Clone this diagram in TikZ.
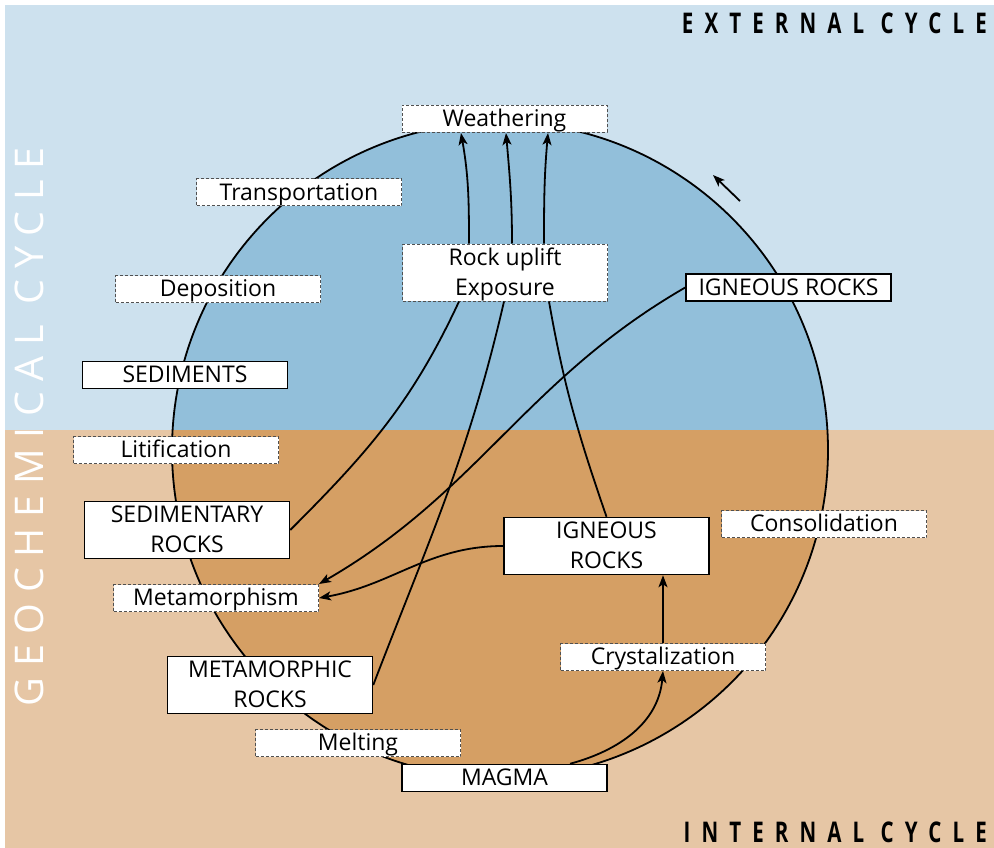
\documentclass[tikz,border=0pt]{standalone}
\usepackage{fontspec}
\setmainfont{Open Sans}
\newfontfamily\titlefont[FakeStretch=0.72,LetterSpace=39]{Open Sans}
\newfontfamily\sidefont[LetterSpace=27]{Open Sans}
\usetikzlibrary{arrows.meta}

\definecolor{skyback}{RGB}{205,225,238}
\definecolor{skydisc}{RGB}{146,191,218}
\definecolor{earthback}{RGB}{230,198,165}
\definecolor{earthdisc}{RGB}{213,159,100}
\definecolor{dashgray}{RGB}{80,80,80}

\tikzset{
  box/.style={draw=black, line width=1.5pt, fill=white, minimum width=205pt,
              minimum height=27pt, inner sep=0pt, align=center,
              text height=20pt, text depth=4.6pt,
              font=\fontsize{23}{30}\selectfont},
  dbox/.style={box, draw=dashgray, line width=1pt, dash pattern=on 3pt off 2pt},
  tallbox/.style={minimum height=57pt, text height=50pt, text depth=4.6pt},
  link/.style={line width=1.8pt, black},
  arr/.style={link, -{Stealth[length=12pt,width=9pt,inset=3pt]}},
  titletext/.style={anchor=east, inner sep=0pt,
                    font=\fontsize{28.5}{28.5}\selectfont\titlefont\bfseries},
}

\begin{document}
\begin{tikzpicture}[x=1pt,y=1pt]
\useasboundingbox (0,0) rectangle (994,-848);

% upper and lower backgrounds
\fill[skyback] (5,-5) rectangle (994,-430);
\fill[earthback] (5,-430) rectangle (994,-848);

% the cycle disc, split at the same level
\begin{scope}
  \clip (500,-450) circle[radius=328pt];
  \fill[skydisc] (160,-110) rectangle (840,-430);
  \fill[earthdisc] (160,-430) rectangle (840,-790);
\end{scope}
\draw[link] (500,-450) circle[radius=328pt];

% titles
\node[titletext] (ext) at (987,-23) {EXTERNAL CYCLE};
\node[titletext] (int) at (987,-832) {INTERNAL CYCLE};
\node[rotate=90, text=white, inner sep=0pt, font=\fontsize{39.5}{39.5}\selectfont\sidefont]
  (geo) at (29,-427) {GEOCHEMICAL CYCLE};

% stages and processes
\node[dbox] (weath)   at (504.5,-119)  {Weathering};
\node[dbox] (transp)  at (299,-192.5)  {Transportation};
\node[dbox] (depos)   at (218,-289)    {Deposition};
\node[box]  (sedim)   at (185,-375)    {SEDIMENTS};
\node[dbox] (litif)   at (176,-450)    {Litification};
\node[box,tallbox]  (sedrock) at (187,-530) {SEDIMENTARY\\ROCKS};
\node[dbox] (meta)    at (216,-598)    {Metamorphism};
\node[box,tallbox]  (metrock) at (270,-685) {METAMORPHIC\\ROCKS};
\node[dbox] (melt)    at (358,-743)    {Melting};
\node[box]  (magma)   at (504.5,-778)  {MAGMA};
\node[dbox] (cryst)   at (663,-657)    {Crystalization};
\node[box,tallbox]  (ignin)   at (606.5,-546) {IGNEOUS\\ROCKS};
\node[dbox] (consol)  at (824,-524)    {Consolidation};
\node[box]  (ignout)  at (788.5,-287.5) {IGNEOUS ROCKS};
\node[dbox,tallbox] (uplift) at (505,-272.5) {Rock uplift\\Exposure};

% direction of the cycle
\coordinate (dirA) at (740,-201);
\coordinate (dirB) at (713,-175);
\draw[arr] (dirA) -- (dirB);

% uplift to weathering
\draw[arr] ([xshift=-36pt]uplift.north) to[out=90,in=-80] ([xshift=-43.5pt]weath.south);
\draw[arr] ([xshift=7pt]uplift.north)   to[out=90,in=-85] ([xshift=1.5pt]weath.south);
\draw[arr] ([xshift=39pt]uplift.north)  to[out=90,in=-95] ([xshift=43.5pt]weath.south);

% rocks brought up to the surface
\draw[link] ([xshift=-46pt]uplift.south) to[out=245,in=45] (sedrock.east);
\draw[link] ([xshift=-1pt]uplift.south)  to[out=-103,in=69] (metrock.east);
\draw[link] ([xshift=44pt]uplift.south)  to[out=-80,in=109] (ignin.north);

% metamorphism of igneous rocks
\draw[arr] (ignout.west) to[out=210,in=30] (meta.north east);
\draw[arr] (ignin.west)  to[out=180,in=10] (meta.east);

% magma crystallizes into igneous rocks
\draw[arr] ([xshift=65.5pt]magma.north) to[out=15,in=-95] (cryst.south);
\draw[arr] (cryst.north) -- ([xshift=56.5pt]ignin.south);
\end{tikzpicture}
\end{document}
